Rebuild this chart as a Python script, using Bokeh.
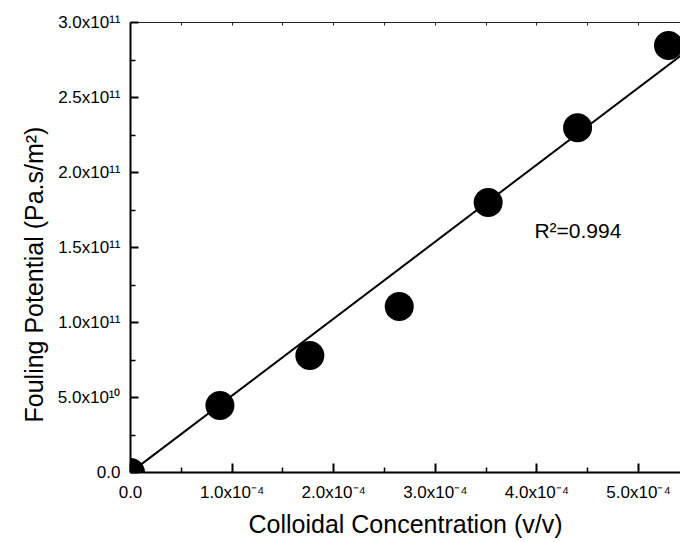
from bokeh.plotting import figure
from bokeh.models import Range1d, LinearAxis, FixedTicker, Label, Title
from bokeh.embed import file_html
from bokeh.resources import INLINE

# ---------------- data ----------------
concentration = [0.0, 0.88e-4, 1.765e-4, 2.645e-4, 3.52e-4, 4.40e-4, 5.295e-4]
fouling_potential = [0.0, 4.47e10, 7.8e10, 1.107e11, 1.80e11, 2.298e11, 2.847e11]
fit_slope = 5.13e14
fit_intercept = 0.0
fit_x = [0.0, 5.45e-4]
r2_text = "R\u00b2=0.994"

x_ticks = [0.0, 1e-4, 2e-4, 3e-4, 4e-4, 5e-4]
x_minor_ticks = [0.5e-4, 1.5e-4, 2.5e-4, 3.5e-4, 4.5e-4, 5.5e-4]
x_tick_labels = ["0.0", "1.0x10\u207b\u2074", "2.0x10\u207b\u2074",
                 "3.0x10\u207b\u2074", "4.0x10\u207b\u2074", "5.0x10\u207b\u2074"]

y_ticks = [0.0, 0.5e11, 1.0e11, 1.5e11, 2.0e11, 2.5e11, 3.0e11]
y_minor_ticks = [0.25e11, 0.75e11, 1.25e11, 1.75e11, 2.25e11, 2.75e11]
y_tick_labels = ["0.0", "5.0x10\u00b9\u2070", "1.0x10\u00b9\u00b9",
                 "1.5x10\u00b9\u00b9", "2.0x10\u00b9\u00b9", "2.5x10\u00b9\u00b9",
                 "3.0x10\u00b9\u00b9"]

x_title = "Colloidal Concentration (v/v)"
y_title = "Fouling Potential (Pa.s/m\u00b2)"

# ---------------- styling ----------------
FONT = "Liberation Sans"

p = figure(width=680, height=542, output_backend="svg", toolbar_location=None,
           x_range=Range1d(0, 5.413e-4), y_range=Range1d(0, 3.0e11),
           min_border_left=130, min_border_right=0, min_border_top=22,
           min_border_bottom=70)
p.outline_line_color = None
p.xgrid.visible = False
p.ygrid.visible = False
p.background_fill_color = "white"
p.border_fill_color = "white"

p.xaxis.ticker = FixedTicker(ticks=x_ticks, minor_ticks=x_minor_ticks)
p.yaxis.ticker = FixedTicker(ticks=y_ticks, minor_ticks=y_minor_ticks)
p.xaxis.major_label_overrides = dict(zip(x_ticks, x_tick_labels))
p.yaxis.major_label_overrides = dict(zip(y_ticks, y_tick_labels))

for ax, tin, standoff in ((p.xaxis[0], 9, 10), (p.yaxis[0], 8, 10)):
    ax.major_label_text_font = FONT
    ax.major_label_text_font_size = "17px"
    ax.major_label_text_color = "black"
    ax.major_label_standoff = standoff
    ax.axis_line_width = 2
    ax.axis_line_color = "black"
    ax.major_tick_in = tin
    ax.major_tick_out = 0
    ax.minor_tick_in = 5
    ax.minor_tick_out = 0
    ax.major_tick_line_width = 2
    ax.minor_tick_line_width = 1.5
    ax.major_tick_line_color = "black"
    ax.minor_tick_line_color = "black"

p.yaxis.major_label_orientation = "horizontal"

# x axis title
p.xaxis.axis_label = x_title
p.xaxis.axis_label_text_font = FONT
p.xaxis.axis_label_text_font_size = "25px"
p.xaxis.axis_label_text_font_style = "normal"
p.xaxis.axis_label_text_color = "black"
p.xaxis.axis_label_standoff = 5

# top mirror axis (ticks only)
top = LinearAxis(ticker=FixedTicker(ticks=x_ticks, minor_ticks=x_minor_ticks))
top.major_label_text_font_size = "1px"
top.major_label_text_color = None
top.major_label_standoff = 0
top.axis_line_width = 1
top.axis_line_color = "#222222"
top.major_tick_in = 3
top.major_tick_out = 0
top.minor_tick_in = 3
top.minor_tick_out = 0
top.major_tick_line_width = 1
top.minor_tick_line_width = 1
top.major_tick_line_color = "#222222"
top.minor_tick_line_color = "#222222"
p.add_layout(top, "above")

# y axis title
ytitle = Title(text=y_title, align="left", offset=50, text_font=FONT,
               text_font_size="25px", text_font_style="normal",
               text_color="black", vertical_align="bottom", standoff=13)
p.add_layout(ytitle, "left")

# fit line and points
fit_y = [fit_intercept + fit_slope * x for x in fit_x]
p.line(fit_x, fit_y, line_color="black", line_width=2)
p.scatter(concentration, fouling_potential, size=29, fill_color="black",
          line_color=None)

# R^2 annotation
p.add_layout(Label(x=3.975e-4, y=1.615e11, text=r2_text, text_align="left",
                   text_baseline="alphabetic", text_font=FONT,
                   text_font_size="21px", text_color="black"))

open("out.html", "w").write(file_html(p, INLINE))
